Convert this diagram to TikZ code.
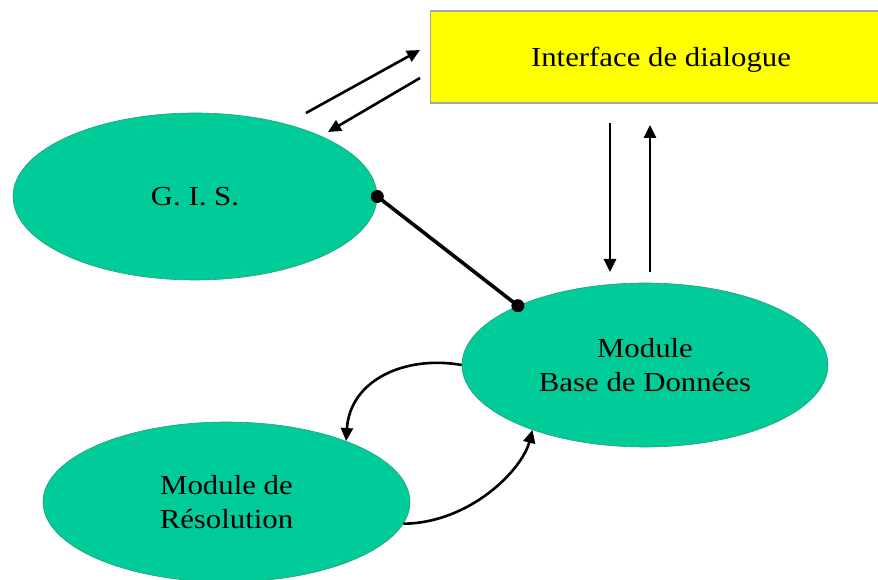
\documentclass[tikz,border=0pt]{standalone}
\usepackage{fontspec}
\setmainfont{Liberation Serif}[FakeStretch=1.12]
\usetikzlibrary{arrows.meta,shapes.geometric}
\definecolor{modgreen}{HTML}{00CC99}
\definecolor{modedge}{HTML}{2E9A78}
\definecolor{ifyellow}{HTML}{FFFF00}
\definecolor{ifedge}{HTML}{A8A8A0}
\begin{document}
\begin{tikzpicture}[x=1pt,y=1pt,
  module/.style={ellipse,fill=modgreen,draw=modedge,line width=0.6pt,inner sep=0pt,
    align=center,font=\fontsize{27.5}{34}\selectfont},
  panel/.style={rectangle,fill=ifyellow,draw=ifedge,line width=1.2pt,inner sep=0pt},
  flow/.style={line width=2.6pt,-{Triangle[length=13pt,width=12pt]}},
  link/.style={line width=3.6pt},
  dot/.style={circle,fill=black,inner sep=0pt,minimum size=13pt}]
\useasboundingbox (0,0) rectangle (878,580);

% dialogue panel, running past the right edge
\node[panel,minimum width=462pt,minimum height=92pt,anchor=west] (ui) at (430,523) {};
\node[font=\fontsize{27.5}{34}\selectfont] (uitxt) at (661,520) {Interface de dialogue};

% modules
\node[module,minimum width=364pt,minimum height=167pt] (gis) at (195,383.5) {G. I. S.};
\node[module,minimum width=366pt,minimum height=164pt] (bd) at (645,215) {Module\\Base de Données};
\node[module,minimum width=367pt,minimum height=160pt] (res) at (226.5,78) {Module de\\Résolution};

% exchange between the panel and the G.I.S.
\coordinate (g1) at (306,467);
\coordinate (u1) at (420,530);
\coordinate (u2) at (420,502);
\coordinate (g2) at (328,448);
\draw[flow] (g1) -- (u1);
\draw[flow] (u2) -- (g2);

% exchange between the panel and the database module
\coordinate (u3) at (610,457);
\coordinate (b3) at (610,308);
\coordinate (b4) at (650,308);
\coordinate (u4) at (650,455);
\draw[flow] (u3) -- (b3);
\draw[flow] (b4) -- (u4);

% direct link G.I.S. -- database
\draw[link] (gis.east) -- (bd.155);
\node[dot] (d1) at (gis.east) {};
\node[dot] (d2) at (bd.155) {};

% loop between the database and the solver
\draw[flow] (bd.west) .. controls (405,225) and (350,200) .. (res.27);
\draw[flow] (res.-7) .. controls (470,57) and (522,110) .. (bd.210);
\end{tikzpicture}
\end{document}
